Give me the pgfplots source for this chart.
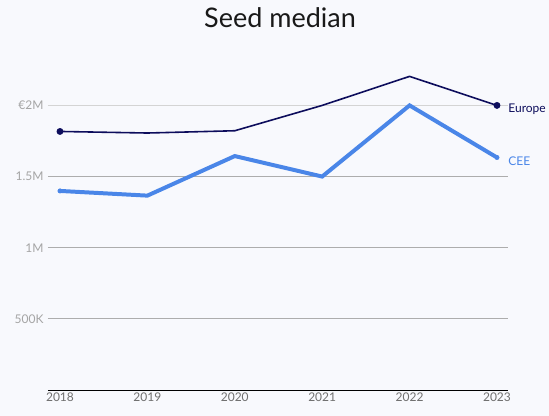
\documentclass[border=0pt]{standalone}
\usepackage{pgfplots}
\pgfplotsset{compat=1.18}
\usepackage{fontspec}
\setmainfont{Lato}
\definecolor{bg}{HTML}{F8F9FD}
\definecolor{europe}{HTML}{0D0D5C}
\definecolor{cee}{HTML}{4A86E8}
\definecolor{ylab}{HTML}{A5A5A5}
\definecolor{xlab}{HTML}{707070}
\begin{document}
\begin{tikzpicture}
\fill[bg] (-48bp,-26bp) rectangle (501bp,390bp);
\useasboundingbox (-48bp,-26bp) rectangle (501bp,390bp);
\node[font=\fontsize{27bp}{30bp}\selectfont, text=black!90] at (232bp,372bp) {Seed median};
\begin{axis}[
  at={(0,0)}, anchor=south west,
  scale only axis, width=460bp, height=341.5bp,
  xmin=2017.863, xmax=2023.126, ymin=0, ymax=2400000,
  axis x line*=bottom, axis y line*=left,
  x axis line style={black, line width=1pt, -},
  y axis line style={draw=none},
  xtick={2018,2019,2020,2021,2022,2023},
  xticklabels={2018,2019,2020,2021,2022,2023},
  xtick style={draw=none},
  ytick={500000,1000000,1500000},
  yticklabels={500K,1M,1.5M},
  extra y ticks={2000000},
  extra y tick labels={€2M},
  extra y tick style={grid style={draw=black!17, line width=0.8pt}},
  ymajorgrids, grid style={draw=black!32, line width=0.8pt},
  ytick style={draw=none},
  scaled y ticks=false,
  /pgf/number format/assume math mode=true,
  ticklabel style={font=\fontsize{12bp}{14bp}\selectfont},
  yticklabel style={text=ylab, xshift=-1bp},
  xticklabel style={text=xlab, yshift=1bp},
  clip=false,
]
\addplot[europe, line width=1.6pt, mark=*, mark size=2.6pt, mark indices={1,6}] coordinates {
(2018,1817000) (2019,1806000) (2020,1822000) (2021,2000000) (2022,2204000) (2023,2000000)};
\addplot[cee, line width=4pt, mark=*, mark size=2.2pt, mark options={line width=0.5pt}, mark indices={1,6}] coordinates {
(2018,1399000) (2019,1366000) (2020,1644000) (2021,1500000) (2022,2000000) (2023,1634000)};
\node[anchor=west, text=europe, font=\fontsize{12bp}{14bp}\selectfont] at (axis cs:2023.09,1975000) {Europe};
\node[anchor=west, text=cee, font=\fontsize{12bp}{14bp}\selectfont] at (axis cs:2023.09,1610000) {CEE};
\end{axis}
\end{tikzpicture}
\end{document}
